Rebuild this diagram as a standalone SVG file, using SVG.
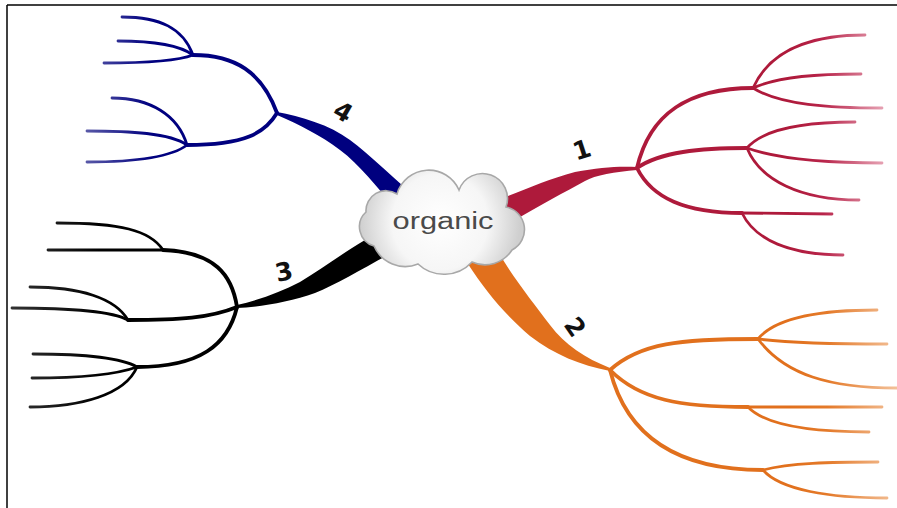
<svg xmlns="http://www.w3.org/2000/svg" width="897" height="508" viewBox="0 0 897 508">
<style>
.br{fill:none;stroke-linecap:round;stroke-linejoin:round}
.sub{stroke-width:3.8}
.leaf{stroke-width:2.8}
.lbl{font-family:"DejaVu Sans","Liberation Sans",sans-serif;font-weight:bold;font-size:25px;fill:#111;text-anchor:middle;dominant-baseline:central}
</style>
<defs>
<linearGradient id="gRed" gradientUnits="userSpaceOnUse" x1="790" y1="0" x2="885" y2="0">
<stop offset="0" stop-color="#ae1a3b"/><stop offset="0.35" stop-color="#b8244a"/><stop offset="1" stop-color="#e7a5b6"/>
</linearGradient>
<linearGradient id="gOrange" gradientUnits="userSpaceOnUse" x1="790" y1="0" x2="897" y2="0">
<stop offset="0" stop-color="#e1701d"/><stop offset="0.35" stop-color="#e47a2a"/><stop offset="1" stop-color="#f3c199"/>
</linearGradient>
<linearGradient id="gBlue" gradientUnits="userSpaceOnUse" x1="150" y1="0" x2="85" y2="0">
<stop offset="0" stop-color="#00007f"/><stop offset="1" stop-color="#5a5aa8"/>
</linearGradient>
<linearGradient id="gBlack" gradientUnits="userSpaceOnUse" x1="100" y1="0" x2="10" y2="0">
<stop offset="0" stop-color="#000"/><stop offset="1" stop-color="#333"/>
</linearGradient>
<radialGradient id="gCloud" gradientUnits="userSpaceOnUse" cx="440" cy="222" r="80">
<stop offset="0" stop-color="#ffffff"/><stop offset="0.6" stop-color="#f6f6f6"/><stop offset="1" stop-color="#cfcfcf"/>
</radialGradient>
</defs>
<rect width="897" height="508" fill="#fff"/>
<g id="frame" stroke="#000" stroke-width="1.5" fill="none">
<line x1="7" y1="5" x2="897" y2="5"/>
<line x1="7" y1="5" x2="7" y2="508"/>
</g>
<g id="connectors">
<g id="branch-4" stroke="url(#gBlue)" class="br">
<path d="M277,112 C300,116 330,125 350,140 C370,155 390,175 408,190 L395,208 C375,185 360,165 340,150 C320,135 300,125 277,115 Z" fill="#00007f" stroke="none"/>
<path class="sub" d="M277,113 C262,72 235,55 193,55"/>
<path class="sub" d="M277,113 C265,133 245,145 187,145"/>
<path class="leaf" d="M193,55 C183,28 160,17 122,17"/>
<path class="leaf" d="M193,55 C178,44 150,41 118,41"/>
<path class="leaf" d="M193,55 C175,62 140,63 104,63"/>
<path class="leaf" d="M187,145 C178,115 150,98 112,98"/>
<path class="leaf" d="M187,145 C170,133 130,131 87,131"/>
<path class="leaf" d="M187,145 C170,158 130,162 87,162"/>
</g>
<g id="branch-1" stroke="url(#gRed)" class="br">
<path d="M490,203 C520,192 545,180 575,172 C600,167 620,166 637,167 L637,170 C615,172 595,175 585,181 C565,192 540,205 512,222 Z" fill="#ae1a3b" stroke="none"/>
<path class="sub" d="M637,168 C650,112 690,88 753,88"/>
<path class="sub" d="M637,168 C660,152 700,148 747,148"/>
<path class="sub" d="M637,168 C652,198 685,213 742,213"/>
<path class="leaf" d="M742,213 L832,214"/>
<path class="leaf" d="M753,88 C770,50 810,35 865,35"/>
<path class="leaf" d="M753,88 C780,76 820,74 861,74"/>
<path class="leaf" d="M753,88 C780,105 830,108 882,108"/>
<path class="leaf" d="M747,148 C765,127 810,122 855,122"/>
<path class="leaf" d="M747,148 C780,160 830,163 882,163"/>
<path class="leaf" d="M747,148 C760,180 800,200 859,200"/>
<path class="leaf" d="M742,213 C755,240 790,255 843,255"/>
</g>
<g id="branch-3" stroke="url(#gBlack)" class="br">
<path d="M237,305 C260,300 280,292 300,282 C320,270 340,255 365,240 L388,255 C360,270 335,285 315,293 C290,302 260,307 237,308 Z" fill="#000" stroke="none"/>
<path class="sub" d="M237,307 C232,275 215,252 163,250"/>
<path class="leaf" d="M163,250 L48,250"/>
<path class="leaf" d="M163,250 C150,230 120,223 57,223"/>
<path class="sub" d="M237,307 C210,318 180,320 128,320"/>
<path class="leaf" d="M128,320 C115,298 80,287 30,287"/>
<path class="leaf" d="M128,320 C110,310 60,308 12,308"/>
<path class="sub" d="M237,307 C228,345 200,367 137,367"/>
<path class="leaf" d="M137,367 C120,357 80,354 33,354"/>
<path class="leaf" d="M137,367 C115,375 80,378 32,378"/>
<path class="leaf" d="M137,367 C125,395 80,407 30,407"/>
</g>
<g id="branch-2" stroke="url(#gOrange)" class="br">
<path d="M468,264 C485,290 505,315 530,336 C555,355 580,365 610,371 L610,368 C585,358 565,345 550,325 C535,305 515,280 500,255 Z" fill="#e1701d" stroke="none"/>
<path class="sub" d="M610,370 C640,343 680,339 758,339"/>
<path class="leaf" d="M758,339 C775,318 820,310 877,310"/>
<path class="leaf" d="M758,339 C790,343 840,344 887,344"/>
<path class="leaf" d="M758,339 C785,375 830,388 897,388"/>
<path class="sub" d="M610,370 C640,400 680,407 748,407"/>
<path class="leaf" d="M748,407 L882,407"/>
<path class="leaf" d="M748,407 C765,425 810,432 869,432"/>
<path class="sub" d="M610,370 C625,430 670,470 763,470"/>
<path class="leaf" d="M763,470 C790,463 830,462 878,462"/>
<path class="leaf" d="M763,470 C780,490 830,498 887,498"/>
</g>
</g>
<g id="labels">
<text class="lbl" transform="translate(582,150) rotate(-18)">1</text>
<text class="lbl" transform="translate(575,327) rotate(55)">2</text>
<text class="lbl" transform="translate(284,272) rotate(-12)">3</text>
<text class="lbl" transform="translate(343,112) rotate(30)">4</text>
</g>
<g id="node-organic">
<path d="M374,246 A20,20 0 0 1 366,212 A20,20 0 0 1 397,194 A33,33 0 0 1 459,190 A24,24 0 0 1 506,207 A23,23 0 0 1 512,250 A32,32 0 0 1 472,262 A38,38 0 0 1 418,264 A34,34 0 0 1 374,246 Z" fill="url(#gCloud)" stroke="#a8a8a8" stroke-width="1.6"/>
<text x="443" y="229" font-family="'Liberation Sans','DejaVu Sans',sans-serif" font-size="23" fill="#4a4a4a" text-anchor="middle" textLength="101" lengthAdjust="spacingAndGlyphs">organic</text>
</g>
</svg>
